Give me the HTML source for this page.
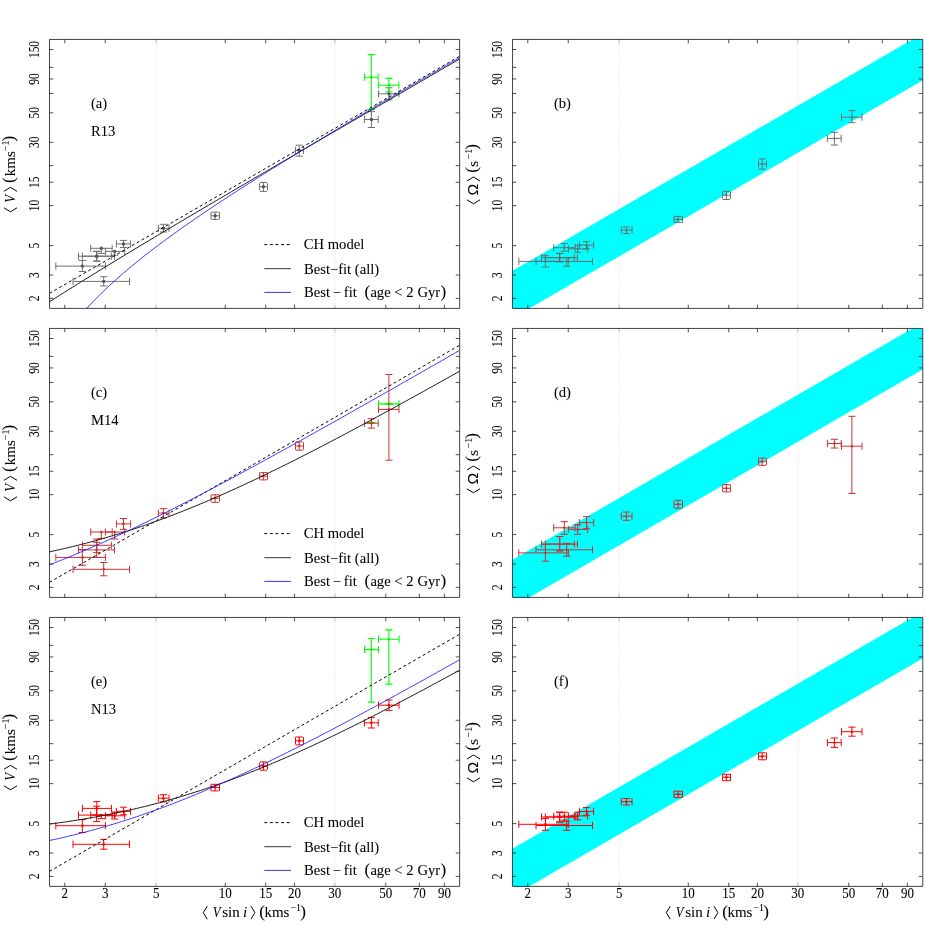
<!DOCTYPE html>
<html lang="en">
<head>
<meta charset="utf-8">
<title>Rotational velocity relations</title>
<style>
html,body{margin:0;padding:0;background:#fff;}
body{width:926px;height:926px;overflow:hidden;font-family:"Liberation Serif",serif;}
svg{display:block;will-change:transform;}
svg text{stroke:#000;stroke-width:0.06px;}
</style>
</head>
<body>
<svg width="926" height="926" viewBox="0 0 926 926" font-family="'Liberation Serif', serif" fill="#000">
<rect width="926" height="926" fill="#fff"/>
<defs>
<clipPath id="cpa"><rect x="49.5" y="39.5" width="410.0" height="269.0"/></clipPath>
<clipPath id="cpb"><rect x="512.5" y="39.5" width="410.0" height="269.0"/></clipPath>
<clipPath id="cpc"><rect x="49.5" y="328.5" width="410.0" height="269.0"/></clipPath>
<clipPath id="cpd"><rect x="512.5" y="328.5" width="410.0" height="269.0"/></clipPath>
<clipPath id="cpe"><rect x="49.5" y="617.5" width="410.0" height="269.0"/></clipPath>
<clipPath id="cpf"><rect x="512.5" y="617.5" width="410.0" height="269.0"/></clipPath>
</defs>
<g id="panel-a">
<g clip-path="url(#cpa)">
<line x1="156.17" y1="39.5" x2="156.17" y2="308.5" stroke="#e9e9e9" stroke-width="1" stroke-dasharray="2.1 1.45"/>
<line x1="334.85" y1="39.5" x2="334.85" y2="308.5" stroke="#e9e9e9" stroke-width="1" stroke-dasharray="2.1 1.45"/>
<path d="M55.80 266.10H105.40M55.80 262.50V269.70M105.40 262.50V269.70M82.40 260.50V271.50M78.80 260.50H86.00M78.80 271.50H86.00" stroke="#696969" stroke-width="0.95" fill="none"/><circle cx="82.40" cy="266.10" r="1.7" fill="#555555"/>
<path d="M78.50 256.20H114.50M78.50 252.60V259.80M114.50 252.60V259.80M96.60 251.40V261.10M93.00 251.40H100.20M93.00 261.10H100.20" stroke="#696969" stroke-width="0.95" fill="none"/><circle cx="96.60" cy="256.20" r="1.7" fill="#555555"/>
<path d="M82.40 256.20H111.40M82.40 252.60V259.80M111.40 252.60V259.80M96.80 251.40V261.10M93.20 251.40H100.40M93.20 261.10H100.40" stroke="#696969" stroke-width="0.95" fill="none"/><circle cx="96.80" cy="256.20" r="1.7" fill="#555555"/>
<path d="M90.70 248.30H112.20M90.70 244.70V251.90M112.20 244.70V251.90M101.30 248.30V253.40M97.70 253.40H104.90" stroke="#696969" stroke-width="0.95" fill="none"/><circle cx="101.30" cy="248.30" r="1.7" fill="#555555"/>
<path d="M105.40 251.40H124.70M105.40 247.80V255.00M124.70 247.80V255.00M114.70 251.40V255.20M111.10 255.20H118.30" stroke="#696969" stroke-width="0.95" fill="none"/><circle cx="114.70" cy="251.40" r="1.7" fill="#555555"/>
<path d="M116.40 243.90H130.60M116.40 240.30V247.50M130.60 240.30V247.50M123.50 240.40V247.50M119.90 240.40H127.10M119.90 247.50H127.10" stroke="#696969" stroke-width="0.95" fill="none"/><circle cx="123.50" cy="243.90" r="1.7" fill="#555555"/>
<path d="M73.00 281.40H129.50M73.00 277.80V285.00M129.50 277.80V285.00M103.70 276.70V286.00M100.10 276.70H107.30M100.10 286.00H107.30" stroke="#696969" stroke-width="0.95" fill="none"/><circle cx="103.70" cy="281.40" r="1.7" fill="#555555"/>
<path d="M158.30 228.30H169.00M158.30 224.70V231.90M169.00 224.70V231.90M163.40 224.30V232.00M159.80 224.30H167.00M159.80 232.00H167.00" stroke="#696969" stroke-width="0.95" fill="none"/><circle cx="163.40" cy="228.30" r="1.7" fill="#555555"/>
<path d="M211.00 215.80H219.50M211.00 212.20V219.40M219.50 212.20V219.40M215.10 212.20V219.40M211.50 212.20H218.70M211.50 219.40H218.70" stroke="#696969" stroke-width="0.95" fill="none"/><circle cx="215.10" cy="215.80" r="1.7" fill="#555555"/>
<path d="M259.60 186.80H267.50M259.60 183.20V190.40M267.50 183.20V190.40M263.40 182.40V191.40M259.80 182.40H267.00M259.80 191.40H267.00" stroke="#696969" stroke-width="0.95" fill="none"/><circle cx="263.40" cy="186.80" r="1.7" fill="#555555"/>
<path d="M295.50 150.40H303.50M295.50 146.80V154.00M303.50 146.80V154.00M299.20 145.20V156.20M295.60 145.20H302.80M295.60 156.20H302.80" stroke="#696969" stroke-width="0.95" fill="none"/><circle cx="299.20" cy="150.40" r="1.7" fill="#555555"/>
<path d="M364.40 119.50H378.20M364.40 115.90V123.10M378.20 115.90V123.10M371.40 111.60V127.50M367.80 111.60H375.00M367.80 127.50H375.00" stroke="#696969" stroke-width="0.95" fill="none"/><circle cx="371.40" cy="119.50" r="1.7" fill="#555555"/>
<path d="M378.50 93.80H399.00M378.50 90.20V97.40M399.00 90.20V97.40M388.90 87.80V99.90M385.30 87.80H392.50M385.30 99.90H392.50" stroke="#696969" stroke-width="0.95" fill="none"/><circle cx="388.90" cy="93.80" r="1.7" fill="#555555"/>
<path d="M364.40 77.20H378.10M364.40 73.60V80.80M378.10 73.60V80.80M371.30 54.60V109.40M367.70 54.60H374.90M367.70 109.40H374.90" stroke="#00FF00" stroke-width="1.1" fill="none"/><circle cx="371.30" cy="77.20" r="1.2" fill="#00FF00"/>
<path d="M378.50 85.20H398.90M378.50 81.60V88.80M398.90 81.60V88.80M388.90 78.40V91.70M385.30 78.40H392.50M385.30 91.70H392.50" stroke="#00FF00" stroke-width="1.1" fill="none"/><circle cx="388.90" cy="85.20" r="1.2" fill="#00FF00"/>
<path d="M49.50 293.32L152.00 234.07L254.50 174.81L357.00 115.55L459.50 56.29" stroke="#000" stroke-width="1.0" stroke-dasharray="2.9 2.7" fill="none"/>
<path d="M49.50 301.74L52.06 300.11L54.62 298.48L57.19 296.85L59.75 295.23L62.31 293.61L64.87 292.00L67.44 290.39L70.00 288.78L72.56 287.18L75.12 285.58L77.69 283.98L80.25 282.38L82.81 280.79L85.38 279.21L87.94 277.62L90.50 276.04L93.06 274.46L95.62 272.88L98.19 271.31L100.75 269.73L103.31 268.17L105.88 266.60L108.44 265.03L111.00 263.47L113.56 261.91L116.12 260.35L118.69 258.80L121.25 257.24L123.81 255.69L126.38 254.14L128.94 252.59L131.50 251.04L134.06 249.50L136.62 247.96L139.19 246.41L141.75 244.87L144.31 243.34L146.88 241.80L149.44 240.26L152.00 238.73L154.56 237.20L157.12 235.66L159.69 234.13L162.25 232.60L164.81 231.08L167.37 229.55L169.94 228.03L172.50 226.50L175.06 224.98L177.62 223.46L180.19 221.94L182.75 220.42L185.31 218.90L187.88 217.38L190.44 215.86L193.00 214.35L195.56 212.83L198.12 211.32L200.69 209.80L203.25 208.29L205.81 206.78L208.38 205.27L210.94 203.76L213.50 202.25L216.06 200.74L218.62 199.23L221.19 197.72L223.75 196.22L226.31 194.71L228.88 193.21L231.44 191.70L234.00 190.20L236.56 188.69L239.12 187.19L241.69 185.69L244.25 184.19L246.81 182.68L249.38 181.18L251.94 179.68L254.50 178.18L257.06 176.68L259.62 175.19L262.19 173.69L264.75 172.19L267.31 170.69L269.87 169.19L272.44 167.70L275.00 166.20L277.56 164.70L280.12 163.21L282.69 161.71L285.25 160.22L287.81 158.72L290.38 157.23L292.94 155.74L295.50 154.24L298.06 152.75L300.62 151.26L303.19 149.76L305.75 148.27L308.31 146.78L310.87 145.29L313.44 143.80L316.00 142.30L318.56 140.81L321.12 139.32L323.69 137.83L326.25 136.34L328.81 134.85L331.38 133.36L333.94 131.87L336.50 130.38L339.06 128.89L341.62 127.40L344.19 125.91L346.75 124.43L349.31 122.94L351.88 121.45L354.44 119.96L357.00 118.47L359.56 116.98L362.12 115.50L364.69 114.01L367.25 112.52L369.81 111.04L372.38 109.55L374.94 108.06L377.50 106.57L380.06 105.09L382.62 103.60L385.19 102.11L387.75 100.63L390.31 99.14L392.88 97.66L395.44 96.17L398.00 94.68L400.56 93.20L403.12 91.71L405.69 90.23L408.25 88.74L410.81 87.26L413.38 85.77L415.94 84.29L418.50 82.80L421.06 81.32L423.62 79.83L426.19 78.35L428.75 76.86L431.31 75.38L433.87 73.89L436.44 72.41L439.00 70.93L441.56 69.44L444.12 67.96L446.69 66.47L449.25 64.99L451.81 63.51L454.38 62.02L456.94 60.54L459.50 59.05" stroke="#000" stroke-width="0.9" fill="none"/>
<path d="M49.50 360.11L52.06 355.49L54.62 351.10L57.19 346.93L59.75 342.93L62.31 339.10L64.87 335.42L67.44 331.88L70.00 328.45L72.56 325.14L75.12 321.92L77.69 318.80L80.25 315.77L82.81 312.81L85.38 309.93L87.94 307.11L90.50 304.36L93.06 301.66L95.62 299.02L98.19 296.43L100.75 293.89L103.31 291.40L105.88 288.95L108.44 286.54L111.00 284.16L113.56 281.82L116.12 279.52L118.69 277.25L121.25 275.01L123.81 272.79L126.38 270.61L128.94 268.45L131.50 266.31L134.06 264.20L136.62 262.11L139.19 260.05L141.75 258.00L144.31 255.98L146.88 253.97L149.44 251.98L152.00 250.01L154.56 248.05L157.12 246.11L159.69 244.19L162.25 242.28L164.81 240.38L167.37 238.50L169.94 236.63L172.50 234.77L175.06 232.93L177.62 231.09L180.19 229.27L182.75 227.46L185.31 225.66L187.88 223.87L190.44 222.08L193.00 220.31L195.56 218.55L198.12 216.79L200.69 215.05L203.25 213.31L205.81 211.58L208.38 209.85L210.94 208.14L213.50 206.43L216.06 204.73L218.62 203.03L221.19 201.34L223.75 199.66L226.31 197.98L228.88 196.31L231.44 194.64L234.00 192.98L236.56 191.33L239.12 189.68L241.69 188.03L244.25 186.39L246.81 184.76L249.38 183.12L251.94 181.50L254.50 179.88L257.06 178.26L259.62 176.64L262.19 175.03L264.75 173.43L267.31 171.82L269.87 170.22L272.44 168.63L275.00 167.04L277.56 165.45L280.12 163.86L282.69 162.28L285.25 160.70L287.81 159.12L290.38 157.55L292.94 155.98L295.50 154.41L298.06 152.84L300.62 151.28L303.19 149.72L305.75 148.16L308.31 146.60L310.87 145.05L313.44 143.50L316.00 141.95L318.56 140.40L321.12 138.86L323.69 137.32L326.25 135.78L328.81 134.24L331.38 132.70L333.94 131.17L336.50 129.64L339.06 128.11L341.62 126.58L344.19 125.05L346.75 123.52L349.31 122.00L351.88 120.48L354.44 118.96L357.00 117.44L359.56 115.92L362.12 114.41L364.69 112.89L367.25 111.38L369.81 109.87L372.38 108.36L374.94 106.85L377.50 105.34L380.06 103.84L382.62 102.33L385.19 100.83L387.75 99.33L390.31 97.83L392.88 96.33L395.44 94.83L398.00 93.34L400.56 91.84L403.12 90.35L405.69 88.86L408.25 87.37L410.81 85.88L413.38 84.39L415.94 82.90L418.50 81.41L421.06 79.93L423.62 78.45L426.19 76.96L428.75 75.48L431.31 74.00L433.87 72.53L436.44 71.05L439.00 69.57L441.56 68.10L444.12 66.62L446.69 65.15L449.25 63.68L451.81 62.21L454.38 60.74L456.94 59.27L459.50 57.81" stroke="#1a1aff" stroke-width="0.85" fill="none"/>
</g>
<path d="M156.17 39.5v3.8M156.17 308.5v-3.8M334.85 39.5v3.8M334.85 308.5v-3.8" stroke="#b4b4b4" stroke-width="0.9" fill="none"/>
<path d="M64.80 39.5v3.8M64.80 308.5v-3.8M105.23 39.5v3.8M105.23 308.5v-3.8M225.29 39.5v3.8M225.29 308.5v-3.8M265.73 39.5v3.8M265.73 308.5v-3.8M294.41 39.5v3.8M294.41 308.5v-3.8M385.79 39.5v3.8M385.79 308.5v-3.8M419.34 39.5v3.8M419.34 308.5v-3.8M444.40 39.5v3.8M444.40 308.5v-3.8M49.5 298.40h3.8M459.5 298.40h-3.8M49.5 275.03h3.8M459.5 275.03h-3.8M49.5 245.58h3.8M459.5 245.58h-3.8M49.5 205.62h3.8M459.5 205.62h-3.8M49.5 182.24h3.8M459.5 182.24h-3.8M49.5 165.66h3.8M459.5 165.66h-3.8M49.5 142.28h3.8M459.5 142.28h-3.8M49.5 112.83h3.8M459.5 112.83h-3.8M49.5 93.44h3.8M459.5 93.44h-3.8M49.5 78.95h3.8M459.5 78.95h-3.8M49.5 67.38h3.8M459.5 67.38h-3.8M49.5 49.50h3.8M459.5 49.50h-3.8" stroke="#333" stroke-width="0.85" fill="none"/>
<path d="M49.55 39.45H459.65V308.4H49.55Z" fill="none" stroke="#000" stroke-width="0.74"/>
<text transform="translate(38.9 298.40) rotate(-90) scale(1 1.24)" font-size="11.5" text-anchor="middle">2</text>
<text transform="translate(38.9 275.03) rotate(-90) scale(1 1.24)" font-size="11.5" text-anchor="middle">3</text>
<text transform="translate(38.9 245.58) rotate(-90) scale(1 1.24)" font-size="11.5" text-anchor="middle">5</text>
<text transform="translate(38.9 205.62) rotate(-90) scale(1 1.24)" font-size="11.5" text-anchor="middle">10</text>
<text transform="translate(38.9 182.24) rotate(-90) scale(1 1.24)" font-size="11.5" text-anchor="middle">15</text>
<text transform="translate(38.9 142.28) rotate(-90) scale(1 1.24)" font-size="11.5" text-anchor="middle">30</text>
<text transform="translate(38.9 112.83) rotate(-90) scale(1 1.24)" font-size="11.5" text-anchor="middle">50</text>
<text transform="translate(38.9 78.95) rotate(-90) scale(1 1.24)" font-size="11.5" text-anchor="middle">90</text>
<text transform="translate(38.9 49.50) rotate(-90) scale(1 1.24)" font-size="11.5" text-anchor="middle">150</text>
<g transform="translate(14.5 174.0) rotate(-90)"><path d="M-33.80 -10.60L-37.80 -4.05L-33.80 2.50" stroke="#000" stroke-width="1.0" fill="none" stroke-linejoin="miter"/><text transform="translate(-28.84 0.00) scale(0.86 1)" font-size="15.0" font-style="italic">V</text><path d="M-17.30 -10.60L-13.30 -4.05L-17.30 2.50" stroke="#000" stroke-width="1.0" fill="none" stroke-linejoin="miter"/><text x="-8.89" y="-0.50" font-size="17.2">(</text><text x="-2.23" y="0.00" font-size="15.0">kms</text><text x="22.85" y="-6.00" font-size="10.0">−1</text><text x="32.48" y="-0.50" font-size="17.2">)</text></g>
<text x="90.92" y="108.10" font-size="14.6">(a)</text>
<text x="90.94" y="135.80" font-size="14.6">R13</text>
<path d="M264.3 244.6H291" stroke="#000" stroke-width="1.0" stroke-dasharray="2.9 2.7" fill="none"/>
<path d="M264.3 268.7H291" stroke="#000" stroke-width="0.8" fill="none"/>
<path d="M264.3 292.4H291" stroke="#0000FF" stroke-width="0.8" fill="none"/>
<text x="303.82" y="249.30" font-size="14.6">CH model</text>
<text x="304.03" y="273.70" font-size="14.6">Best−fit (all)</text>
<text x="304.03" y="297.00" font-size="14.6">Best</text>
<text x="332.64" y="297.00" font-size="14.6">−</text>
<text x="343.86" y="297.00" font-size="14.6">fit</text>
<text x="364.61" y="297.20" font-size="17.2">(</text>
<text x="370.39" y="297.00" font-size="14.6">age</text>
<text x="394.14" y="297.00" font-size="14.6">&lt;</text>
<text x="406.32" y="297.00" font-size="14.6">2</text>
<text x="417.52" y="297.00" font-size="14.6">Gyr</text>
<text x="440.38" y="297.20" font-size="17.2">)</text>
</g>
<g id="panel-b">
<g clip-path="url(#cpb)">
<line x1="619.17" y1="39.5" x2="619.17" y2="308.5" stroke="#e9e9e9" stroke-width="1" stroke-dasharray="2.1 1.45"/>
<line x1="797.85" y1="39.5" x2="797.85" y2="308.5" stroke="#e9e9e9" stroke-width="1" stroke-dasharray="2.1 1.45"/>
<polygon points="500.0,278.03 930.0,29.29 930.0,76.31 500.0,325.39" fill="#00FFFF"/>
<path d="M518.80 261.40H568.40M518.80 257.80V265.00M568.40 257.80V265.00M545.40 255.70V267.00M541.80 255.70H549.00M541.80 267.00H549.00" stroke="#696969" stroke-width="0.95" fill="none"/><circle cx="545.40" cy="261.40" r="1.0" fill="#696969"/>
<path d="M541.50 257.70H577.50M541.50 254.10V261.30M577.50 254.10V261.30M559.60 253.40V261.80M556.00 253.40H563.20M556.00 261.80H563.20" stroke="#696969" stroke-width="0.95" fill="none"/><circle cx="559.60" cy="257.70" r="1.0" fill="#696969"/>
<path d="M545.40 257.70H574.40M545.40 254.10V261.30M574.40 254.10V261.30M559.80 253.40V261.80M556.20 253.40H563.40M556.20 261.80H563.40" stroke="#696969" stroke-width="0.95" fill="none"/><circle cx="559.80" cy="257.70" r="1.0" fill="#696969"/>
<path d="M553.70 247.70H575.20M553.70 244.10V251.30M575.20 244.10V251.30M564.30 243.60V251.20M560.70 243.60H567.90M560.70 251.20H567.90" stroke="#696969" stroke-width="0.95" fill="none"/><circle cx="564.30" cy="247.70" r="1.0" fill="#696969"/>
<path d="M568.40 248.90H587.70M568.40 245.30V252.50M587.70 245.30V252.50M577.70 245.10V252.40M574.10 245.10H581.30M574.10 252.40H581.30" stroke="#696969" stroke-width="0.95" fill="none"/><circle cx="577.70" cy="248.90" r="1.0" fill="#696969"/>
<path d="M579.40 245.10H593.60M579.40 241.50V248.70M593.60 241.50V248.70M586.50 241.60V248.90M582.90 241.60H590.10M582.90 248.90H590.10" stroke="#696969" stroke-width="0.95" fill="none"/><circle cx="586.50" cy="245.10" r="1.0" fill="#696969"/>
<path d="M536.00 261.40H592.50M536.00 257.80V265.00M592.50 257.80V265.00M566.70 257.70V266.30M563.10 257.70H570.30M563.10 266.30H570.30" stroke="#696969" stroke-width="0.95" fill="none"/><circle cx="566.70" cy="261.40" r="1.0" fill="#696969"/>
<path d="M621.30 230.00H632.00M621.30 226.40V233.60M632.00 226.40V233.60M626.40 227.00V233.60M622.80 227.00H630.00M622.80 233.60H630.00" stroke="#696969" stroke-width="0.95" fill="none"/><circle cx="626.40" cy="230.00" r="1.0" fill="#696969"/>
<path d="M674.00 219.40H682.50M674.00 215.80V223.00M682.50 215.80V223.00M678.10 216.40V222.40M674.50 216.40H681.70M674.50 222.40H681.70" stroke="#696969" stroke-width="0.95" fill="none"/><circle cx="678.10" cy="219.40" r="1.0" fill="#696969"/>
<path d="M722.60 195.20H730.50M722.60 191.60V198.80M730.50 191.60V198.80M726.40 191.30V199.50M722.80 191.30H730.00M722.80 199.50H730.00" stroke="#696969" stroke-width="0.95" fill="none"/><circle cx="726.40" cy="195.20" r="1.0" fill="#696969"/>
<path d="M758.50 164.10H766.50M758.50 160.50V167.70M766.50 160.50V167.70M762.20 158.90V169.20M758.60 158.90H765.80M758.60 169.20H765.80" stroke="#696969" stroke-width="0.95" fill="none"/><circle cx="762.20" cy="164.10" r="1.0" fill="#696969"/>
<path d="M827.40 138.40H841.20M827.40 134.80V142.00M841.20 134.80V142.00M834.40 132.30V145.00M830.80 132.30H838.00M830.80 145.00H838.00" stroke="#696969" stroke-width="0.95" fill="none"/><circle cx="834.40" cy="138.40" r="1.0" fill="#696969"/>
<path d="M841.50 117.20H862.00M841.50 113.60V120.80M862.00 113.60V120.80M851.90 110.60V122.70M848.30 110.60H855.50M848.30 122.70H855.50" stroke="#696969" stroke-width="0.95" fill="none"/><circle cx="851.90" cy="117.20" r="1.0" fill="#696969"/>
</g>
<path d="M619.17 39.5v3.8M619.17 308.5v-3.8M797.85 39.5v3.8M797.85 308.5v-3.8" stroke="#b4b4b4" stroke-width="0.9" fill="none"/>
<path d="M527.80 39.5v3.8M527.80 308.5v-3.8M568.23 39.5v3.8M568.23 308.5v-3.8M688.29 39.5v3.8M688.29 308.5v-3.8M728.73 39.5v3.8M728.73 308.5v-3.8M757.41 39.5v3.8M757.41 308.5v-3.8M848.79 39.5v3.8M848.79 308.5v-3.8M882.34 39.5v3.8M882.34 308.5v-3.8M907.40 39.5v3.8M907.40 308.5v-3.8M512.5 298.40h3.8M922.5 298.40h-3.8M512.5 275.03h3.8M922.5 275.03h-3.8M512.5 245.58h3.8M922.5 245.58h-3.8M512.5 205.62h3.8M922.5 205.62h-3.8M512.5 182.24h3.8M922.5 182.24h-3.8M512.5 165.66h3.8M922.5 165.66h-3.8M512.5 142.28h3.8M922.5 142.28h-3.8M512.5 112.83h3.8M922.5 112.83h-3.8M512.5 93.44h3.8M922.5 93.44h-3.8M512.5 78.95h3.8M922.5 78.95h-3.8M512.5 67.38h3.8M922.5 67.38h-3.8M512.5 49.50h3.8M922.5 49.50h-3.8" stroke="#333" stroke-width="0.85" fill="none"/>
<path d="M512.55 39.45H922.75V308.4H512.55Z" fill="none" stroke="#000" stroke-width="0.74"/>
<text transform="translate(501.9 298.40) rotate(-90) scale(1 1.24)" font-size="11.5" text-anchor="middle">2</text>
<text transform="translate(501.9 275.03) rotate(-90) scale(1 1.24)" font-size="11.5" text-anchor="middle">3</text>
<text transform="translate(501.9 245.58) rotate(-90) scale(1 1.24)" font-size="11.5" text-anchor="middle">5</text>
<text transform="translate(501.9 205.62) rotate(-90) scale(1 1.24)" font-size="11.5" text-anchor="middle">10</text>
<text transform="translate(501.9 182.24) rotate(-90) scale(1 1.24)" font-size="11.5" text-anchor="middle">15</text>
<text transform="translate(501.9 142.28) rotate(-90) scale(1 1.24)" font-size="11.5" text-anchor="middle">30</text>
<text transform="translate(501.9 112.83) rotate(-90) scale(1 1.24)" font-size="11.5" text-anchor="middle">50</text>
<text transform="translate(501.9 78.95) rotate(-90) scale(1 1.24)" font-size="11.5" text-anchor="middle">90</text>
<text transform="translate(501.9 49.50) rotate(-90) scale(1 1.24)" font-size="11.5" text-anchor="middle">150</text>
<g transform="translate(477.5 174.0) rotate(-90)"><path d="M-25.80 -10.60L-29.80 -4.05L-25.80 2.50" stroke="#000" stroke-width="1.0" fill="none" stroke-linejoin="miter"/><text x="-21.47" y="0.00" font-size="15.5" font-family="'Liberation Sans', sans-serif">Ω</text><path d="M-7.00 -10.60L-3.00 -4.05L-7.00 2.50" stroke="#000" stroke-width="1.0" fill="none" stroke-linejoin="miter"/><text x="1.31" y="-0.50" font-size="17.2">(</text><text x="7.30" y="0.00" font-size="15.0">s</text><text x="14.55" y="-6.00" font-size="10.0">−1</text><text x="24.28" y="-0.50" font-size="17.2">)</text></g>
<text x="553.92" y="108.10" font-size="14.6">(b)</text>
</g>
<g id="panel-c">
<g clip-path="url(#cpc)">
<line x1="156.17" y1="328.5" x2="156.17" y2="597.5" stroke="#e9e9e9" stroke-width="1" stroke-dasharray="2.1 1.45"/>
<line x1="334.85" y1="328.5" x2="334.85" y2="597.5" stroke="#e9e9e9" stroke-width="1" stroke-dasharray="2.1 1.45"/>
<path d="M367.30 422.80H375.30" stroke="#00FF00" stroke-width="1.9" fill="none"/>
<path d="M378.60 403.90H399.00M378.60 400.30V407.50M399.00 400.30V407.50M388.90 403.30V404.50M385.30 403.30H392.50M385.30 404.50H392.50" stroke="#00FF00" stroke-width="1.1" fill="none"/><circle cx="388.90" cy="403.90" r="1.2" fill="#00FF00"/>
<path d="M55.80 557.40H105.40M55.80 553.80V561.00M105.40 553.80V561.00M82.40 549.50V565.30M78.80 549.50H86.00M78.80 565.30H86.00" stroke="#CD3333" stroke-width="1.0" fill="none"/><circle cx="82.40" cy="557.40" r="1.3" fill="#CD3333"/>
<path d="M78.50 549.90H114.50M78.50 546.30V553.50M114.50 546.30V553.50M96.60 542.40V557.40M93.00 542.40H100.20M93.00 557.40H100.20" stroke="#CD3333" stroke-width="1.0" fill="none"/><circle cx="96.60" cy="549.90" r="1.3" fill="#CD3333"/>
<path d="M82.40 545.30H111.40M82.40 541.70V548.90M111.40 541.70V548.90M96.80 539.00V552.60M93.20 539.00H100.40M93.20 552.60H100.40" stroke="#CD3333" stroke-width="1.0" fill="none"/><circle cx="96.80" cy="545.30" r="1.3" fill="#CD3333"/>
<path d="M90.70 532.00H112.20M90.70 528.40V535.60M112.20 528.40V535.60M101.30 532.00V538.50M97.70 538.50H104.90" stroke="#CD3333" stroke-width="1.0" fill="none"/><circle cx="101.30" cy="532.00" r="1.3" fill="#CD3333"/>
<path d="M105.40 532.00H124.70M105.40 528.40V535.60M124.70 528.40V535.60M114.70 532.00V539.00M111.10 539.00H118.30" stroke="#CD3333" stroke-width="1.0" fill="none"/><circle cx="114.70" cy="532.00" r="1.3" fill="#CD3333"/>
<path d="M116.40 523.90H130.60M116.40 520.30V527.50M130.60 520.30V527.50M123.50 518.50V529.40M119.90 518.50H127.10M119.90 529.40H127.10" stroke="#CD3333" stroke-width="1.0" fill="none"/><circle cx="123.50" cy="523.90" r="1.3" fill="#CD3333"/>
<path d="M73.00 569.30H129.50M73.00 565.70V572.90M129.50 565.70V572.90M103.70 562.50V575.80M100.10 562.50H107.30M100.10 575.80H107.30" stroke="#CD3333" stroke-width="1.0" fill="none"/><circle cx="103.70" cy="569.30" r="1.3" fill="#CD3333"/>
<path d="M158.30 513.10H169.00M158.30 509.50V516.70M169.00 509.50V516.70M163.40 508.60V517.90M159.80 508.60H167.00M159.80 517.90H167.00" stroke="#CD3333" stroke-width="1.0" fill="none"/><circle cx="163.40" cy="513.10" r="1.3" fill="#CD3333"/>
<path d="M211.00 498.20H219.50M211.00 494.60V501.80M219.50 494.60V501.80M215.10 494.80V502.40M211.50 494.80H218.70M211.50 502.40H218.70" stroke="#CD3333" stroke-width="1.0" fill="none"/><circle cx="215.10" cy="498.20" r="1.3" fill="#CD3333"/>
<path d="M259.60 476.10H267.50M259.60 472.50V479.70M267.50 472.50V479.70M263.40 472.60V479.90M259.80 472.60H267.00M259.80 479.90H267.00" stroke="#CD3333" stroke-width="1.0" fill="none"/><circle cx="263.40" cy="476.10" r="1.3" fill="#CD3333"/>
<path d="M295.50 446.00H303.50M295.50 442.40V449.60M303.50 442.40V449.60M299.20 441.90V450.20M295.60 441.90H302.80M295.60 450.20H302.80" stroke="#CD3333" stroke-width="1.0" fill="none"/><circle cx="299.20" cy="446.00" r="1.3" fill="#CD3333"/>
<path d="M364.40 423.20H378.20M364.40 419.60V426.80M378.20 419.60V426.80M371.40 418.70V428.10M367.80 418.70H375.00M367.80 428.10H375.00" stroke="#CD3333" stroke-width="1.0" fill="none"/><circle cx="371.40" cy="423.20" r="1.3" fill="#CD3333"/>
<path d="M378.50 409.40H399.00M378.50 405.80V413.00M399.00 405.80V413.00M388.90 374.50V460.20M385.30 374.50H392.50M385.30 460.20H392.50" stroke="#CD3333" stroke-width="1.0" fill="none"/><circle cx="388.90" cy="409.40" r="1.3" fill="#CD3333"/>
<path d="M49.50 582.32L152.00 523.07L254.50 463.81L357.00 404.55L459.50 345.29" stroke="#000" stroke-width="1.0" stroke-dasharray="2.9 2.7" fill="none"/>
<path d="M49.50 551.81L52.06 551.27L54.62 550.71L57.19 550.15L59.75 549.58L62.31 549.00L64.87 548.41L67.44 547.81L70.00 547.20L72.56 546.58L75.12 545.95L77.69 545.32L80.25 544.67L82.81 544.01L85.38 543.35L87.94 542.68L90.50 541.99L93.06 541.30L95.62 540.60L98.19 539.88L100.75 539.16L103.31 538.43L105.88 537.69L108.44 536.94L111.00 536.18L113.56 535.41L116.12 534.63L118.69 533.85L121.25 533.05L123.81 532.24L126.38 531.43L128.94 530.60L131.50 529.76L134.06 528.92L136.62 528.07L139.19 527.20L141.75 526.33L144.31 525.45L146.88 524.56L149.44 523.66L152.00 522.75L154.56 521.83L157.12 520.91L159.69 519.97L162.25 519.03L164.81 518.07L167.37 517.11L169.94 516.14L172.50 515.16L175.06 514.17L177.62 513.18L180.19 512.17L182.75 511.16L185.31 510.14L187.88 509.11L190.44 508.07L193.00 507.03L195.56 505.97L198.12 504.91L200.69 503.85L203.25 502.77L205.81 501.69L208.38 500.59L210.94 499.50L213.50 498.39L216.06 497.28L218.62 496.16L221.19 495.03L223.75 493.90L226.31 492.76L228.88 491.61L231.44 490.46L234.00 489.30L236.56 488.13L239.12 486.96L241.69 485.78L244.25 484.59L246.81 483.40L249.38 482.20L251.94 481.00L254.50 479.79L257.06 478.58L259.62 477.36L262.19 476.13L264.75 474.90L267.31 473.66L269.87 472.42L272.44 471.18L275.00 469.92L277.56 468.67L280.12 467.41L282.69 466.14L285.25 464.87L287.81 463.59L290.38 462.31L292.94 461.03L295.50 459.74L298.06 458.45L300.62 457.15L303.19 455.85L305.75 454.54L308.31 453.23L310.87 451.92L313.44 450.60L316.00 449.28L318.56 447.96L321.12 446.63L323.69 445.30L326.25 443.96L328.81 442.62L331.38 441.28L333.94 439.94L336.50 438.59L339.06 437.24L341.62 435.89L344.19 434.53L346.75 433.17L349.31 431.81L351.88 430.44L354.44 429.07L357.00 427.70L359.56 426.33L362.12 424.95L364.69 423.57L367.25 422.19L369.81 420.81L372.38 419.42L374.94 418.04L377.50 416.65L380.06 415.25L382.62 413.86L385.19 412.46L387.75 411.06L390.31 409.66L392.88 408.26L395.44 406.86L398.00 405.45L400.56 404.04L403.12 402.63L405.69 401.22L408.25 399.81L410.81 398.39L413.38 396.98L415.94 395.56L418.50 394.14L421.06 392.72L423.62 391.29L426.19 389.87L428.75 388.44L431.31 387.02L433.87 385.59L436.44 384.16L439.00 382.73L441.56 381.30L444.12 379.86L446.69 378.43L449.25 376.99L451.81 375.56L454.38 374.12L456.94 372.68L459.50 371.24" stroke="#000" stroke-width="0.9" fill="none"/>
<path d="M49.50 564.80L52.06 563.80L54.62 562.80L57.19 561.79L59.75 560.77L62.31 559.74L64.87 558.70L67.44 557.66L70.00 556.61L72.56 555.55L75.12 554.48L77.69 553.40L80.25 552.32L82.81 551.23L85.38 550.13L87.94 549.02L90.50 547.91L93.06 546.79L95.62 545.67L98.19 544.53L100.75 543.39L103.31 542.25L105.88 541.09L108.44 539.93L111.00 538.77L113.56 537.59L116.12 536.42L118.69 535.23L121.25 534.04L123.81 532.84L126.38 531.64L128.94 530.43L131.50 529.22L134.06 528.00L136.62 526.77L139.19 525.54L141.75 524.30L144.31 523.06L146.88 521.82L149.44 520.56L152.00 519.31L154.56 518.05L157.12 516.78L159.69 515.51L162.25 514.24L164.81 512.96L167.37 511.67L169.94 510.38L172.50 509.09L175.06 507.79L177.62 506.49L180.19 505.19L182.75 503.88L185.31 502.56L187.88 501.25L190.44 499.93L193.00 498.60L195.56 497.27L198.12 495.94L200.69 494.61L203.25 493.27L205.81 491.93L208.38 490.58L210.94 489.24L213.50 487.89L216.06 486.53L218.62 485.17L221.19 483.81L223.75 482.45L226.31 481.09L228.88 479.72L231.44 478.35L234.00 476.97L236.56 475.60L239.12 474.22L241.69 472.84L244.25 471.46L246.81 470.07L249.38 468.68L251.94 467.29L254.50 465.90L257.06 464.51L259.62 463.11L262.19 461.71L264.75 460.31L267.31 458.91L269.87 457.50L272.44 456.10L275.00 454.69L277.56 453.28L280.12 451.87L282.69 450.46L285.25 449.04L287.81 447.62L290.38 446.21L292.94 444.79L295.50 443.37L298.06 441.94L300.62 440.52L303.19 439.09L305.75 437.67L308.31 436.24L310.87 434.81L313.44 433.38L316.00 431.95L318.56 430.51L321.12 429.08L323.69 427.64L326.25 426.21L328.81 424.77L331.38 423.33L333.94 421.89L336.50 420.45L339.06 419.01L341.62 417.57L344.19 416.12L346.75 414.68L349.31 413.23L351.88 411.79L354.44 410.34L357.00 408.89L359.56 407.44L362.12 405.99L364.69 404.54L367.25 403.09L369.81 401.64L372.38 400.18L374.94 398.73L377.50 397.28L380.06 395.82L382.62 394.36L385.19 392.91L387.75 391.45L390.31 389.99L392.88 388.54L395.44 387.08L398.00 385.62L400.56 384.16L403.12 382.70L405.69 381.24L408.25 379.78L410.81 378.31L413.38 376.85L415.94 375.39L418.50 373.93L421.06 372.46L423.62 371.00L426.19 369.53L428.75 368.07L431.31 366.60L433.87 365.14L436.44 363.67L439.00 362.20L441.56 360.74L444.12 359.27L446.69 357.80L449.25 356.33L451.81 354.86L454.38 353.40L456.94 351.93L459.50 350.46" stroke="#1a1aff" stroke-width="0.85" fill="none"/>
</g>
<path d="M156.17 328.5v3.8M156.17 597.5v-3.8M334.85 328.5v3.8M334.85 597.5v-3.8" stroke="#b4b4b4" stroke-width="0.9" fill="none"/>
<path d="M64.80 328.5v3.8M64.80 597.5v-3.8M105.23 328.5v3.8M105.23 597.5v-3.8M225.29 328.5v3.8M225.29 597.5v-3.8M265.73 328.5v3.8M265.73 597.5v-3.8M294.41 328.5v3.8M294.41 597.5v-3.8M385.79 328.5v3.8M385.79 597.5v-3.8M419.34 328.5v3.8M419.34 597.5v-3.8M444.40 328.5v3.8M444.40 597.5v-3.8M49.5 587.40h3.8M459.5 587.40h-3.8M49.5 564.03h3.8M459.5 564.03h-3.8M49.5 534.58h3.8M459.5 534.58h-3.8M49.5 494.62h3.8M459.5 494.62h-3.8M49.5 471.24h3.8M459.5 471.24h-3.8M49.5 454.66h3.8M459.5 454.66h-3.8M49.5 431.28h3.8M459.5 431.28h-3.8M49.5 401.83h3.8M459.5 401.83h-3.8M49.5 382.44h3.8M459.5 382.44h-3.8M49.5 367.95h3.8M459.5 367.95h-3.8M49.5 356.38h3.8M459.5 356.38h-3.8M49.5 338.50h3.8M459.5 338.50h-3.8" stroke="#333" stroke-width="0.85" fill="none"/>
<path d="M49.55 328.45H459.65V597.4H49.55Z" fill="none" stroke="#000" stroke-width="0.74"/>
<text transform="translate(38.9 587.40) rotate(-90) scale(1 1.24)" font-size="11.5" text-anchor="middle">2</text>
<text transform="translate(38.9 564.03) rotate(-90) scale(1 1.24)" font-size="11.5" text-anchor="middle">3</text>
<text transform="translate(38.9 534.58) rotate(-90) scale(1 1.24)" font-size="11.5" text-anchor="middle">5</text>
<text transform="translate(38.9 494.62) rotate(-90) scale(1 1.24)" font-size="11.5" text-anchor="middle">10</text>
<text transform="translate(38.9 471.24) rotate(-90) scale(1 1.24)" font-size="11.5" text-anchor="middle">15</text>
<text transform="translate(38.9 431.28) rotate(-90) scale(1 1.24)" font-size="11.5" text-anchor="middle">30</text>
<text transform="translate(38.9 401.83) rotate(-90) scale(1 1.24)" font-size="11.5" text-anchor="middle">50</text>
<text transform="translate(38.9 367.95) rotate(-90) scale(1 1.24)" font-size="11.5" text-anchor="middle">90</text>
<text transform="translate(38.9 338.50) rotate(-90) scale(1 1.24)" font-size="11.5" text-anchor="middle">150</text>
<g transform="translate(14.5 463.0) rotate(-90)"><path d="M-33.80 -10.60L-37.80 -4.05L-33.80 2.50" stroke="#000" stroke-width="1.0" fill="none" stroke-linejoin="miter"/><text transform="translate(-28.84 0.00) scale(0.86 1)" font-size="15.0" font-style="italic">V</text><path d="M-17.30 -10.60L-13.30 -4.05L-17.30 2.50" stroke="#000" stroke-width="1.0" fill="none" stroke-linejoin="miter"/><text x="-8.89" y="-0.50" font-size="17.2">(</text><text x="-2.23" y="0.00" font-size="15.0">kms</text><text x="22.85" y="-6.00" font-size="10.0">−1</text><text x="32.48" y="-0.50" font-size="17.2">)</text></g>
<text x="90.92" y="397.10" font-size="14.6">(c)</text>
<text x="90.94" y="424.80" font-size="14.6">M14</text>
<path d="M264.3 533.6H291" stroke="#000" stroke-width="1.0" stroke-dasharray="2.9 2.7" fill="none"/>
<path d="M264.3 557.7H291" stroke="#000" stroke-width="0.8" fill="none"/>
<path d="M264.3 581.4H291" stroke="#0000FF" stroke-width="0.8" fill="none"/>
<text x="303.82" y="538.30" font-size="14.6">CH model</text>
<text x="304.03" y="562.70" font-size="14.6">Best−fit (all)</text>
<text x="304.03" y="586.00" font-size="14.6">Best</text>
<text x="332.64" y="586.00" font-size="14.6">−</text>
<text x="343.86" y="586.00" font-size="14.6">fit</text>
<text x="364.61" y="586.20" font-size="17.2">(</text>
<text x="370.39" y="586.00" font-size="14.6">age</text>
<text x="394.14" y="586.00" font-size="14.6">&lt;</text>
<text x="406.32" y="586.00" font-size="14.6">2</text>
<text x="417.52" y="586.00" font-size="14.6">Gyr</text>
<text x="440.38" y="586.20" font-size="17.2">)</text>
</g>
<g id="panel-d">
<g clip-path="url(#cpd)">
<line x1="619.17" y1="328.5" x2="619.17" y2="597.5" stroke="#e9e9e9" stroke-width="1" stroke-dasharray="2.1 1.45"/>
<line x1="797.85" y1="328.5" x2="797.85" y2="597.5" stroke="#e9e9e9" stroke-width="1" stroke-dasharray="2.1 1.45"/>
<polygon points="500.0,567.03 930.0,318.29 930.0,365.31 500.0,614.39" fill="#00FFFF"/>
<path d="M518.80 552.90H568.40M518.80 549.30V556.50M568.40 549.30V556.50M545.40 544.40V561.20M541.80 544.40H549.00M541.80 561.20H549.00" stroke="#CD3333" stroke-width="1.0" fill="none"/><circle cx="545.40" cy="552.90" r="1.2" fill="#CD3333"/>
<path d="M541.50 544.10H577.50M541.50 540.50V547.70M577.50 540.50V547.70M559.60 536.50V550.90M556.00 536.50H563.20M556.00 550.90H563.20" stroke="#CD3333" stroke-width="1.0" fill="none"/><circle cx="559.60" cy="544.10" r="1.2" fill="#CD3333"/>
<path d="M545.40 544.10H574.40M545.40 540.50V547.70M574.40 540.50V547.70M559.80 536.50V550.90M556.20 536.50H563.40M556.20 550.90H563.40" stroke="#CD3333" stroke-width="1.0" fill="none"/><circle cx="559.80" cy="544.10" r="1.2" fill="#CD3333"/>
<path d="M553.70 527.80H575.20M553.70 524.20V531.40M575.20 524.20V531.40M564.30 521.70V534.30M560.70 521.70H567.90M560.70 534.30H567.90" stroke="#CD3333" stroke-width="1.0" fill="none"/><circle cx="564.30" cy="527.80" r="1.2" fill="#CD3333"/>
<path d="M568.40 529.40H587.70M568.40 525.80V533.00M587.70 525.80V533.00M577.70 524.70V534.30M574.10 524.70H581.30M574.10 534.30H581.30" stroke="#CD3333" stroke-width="1.0" fill="none"/><circle cx="577.70" cy="529.40" r="1.2" fill="#CD3333"/>
<path d="M579.40 522.60H593.60M579.40 519.00V526.20M593.60 519.00V526.20M586.50 516.60V528.70M582.90 516.60H590.10M582.90 528.70H590.10" stroke="#CD3333" stroke-width="1.0" fill="none"/><circle cx="586.50" cy="522.60" r="1.2" fill="#CD3333"/>
<path d="M536.00 549.80H592.50M536.00 546.20V553.40M592.50 546.20V553.40M566.70 543.30V556.20M563.10 543.30H570.30M563.10 556.20H570.30" stroke="#CD3333" stroke-width="1.0" fill="none"/><circle cx="566.70" cy="549.80" r="1.2" fill="#CD3333"/>
<path d="M621.30 516.20H632.00M621.30 512.60V519.80M632.00 512.60V519.80M626.40 512.00V520.30M622.80 512.00H630.00M622.80 520.30H630.00" stroke="#CD3333" stroke-width="1.0" fill="none"/><circle cx="626.40" cy="516.20" r="1.2" fill="#CD3333"/>
<path d="M674.00 504.30H682.50M674.00 500.70V507.90M682.50 500.70V507.90M678.10 500.30V508.20M674.50 500.30H681.70M674.50 508.20H681.70" stroke="#CD3333" stroke-width="1.0" fill="none"/><circle cx="678.10" cy="504.30" r="1.2" fill="#CD3333"/>
<path d="M722.60 488.30H730.50M722.60 484.70V491.90M730.50 484.70V491.90M726.40 484.60V491.90M722.80 484.60H730.00M722.80 491.90H730.00" stroke="#CD3333" stroke-width="1.0" fill="none"/><circle cx="726.40" cy="488.30" r="1.2" fill="#CD3333"/>
<path d="M758.50 461.60H766.50M758.50 458.00V465.20M766.50 458.00V465.20M762.20 458.00V465.30M758.60 458.00H765.80M758.60 465.30H765.80" stroke="#CD3333" stroke-width="1.0" fill="none"/><circle cx="762.20" cy="461.60" r="1.2" fill="#CD3333"/>
<path d="M827.40 443.50H841.20M827.40 439.90V447.10M841.20 439.90V447.10M834.40 439.30V448.00M830.80 439.30H838.00M830.80 448.00H838.00" stroke="#CD3333" stroke-width="1.0" fill="none"/><circle cx="834.40" cy="443.50" r="1.2" fill="#CD3333"/>
<path d="M841.50 446.20H862.00M841.50 442.60V449.80M862.00 442.60V449.80M851.90 416.30V493.40M848.30 416.30H855.50M848.30 493.40H855.50" stroke="#CD3333" stroke-width="1.0" fill="none"/><circle cx="851.90" cy="446.20" r="1.2" fill="#CD3333"/>
</g>
<path d="M619.17 328.5v3.8M619.17 597.5v-3.8M797.85 328.5v3.8M797.85 597.5v-3.8" stroke="#b4b4b4" stroke-width="0.9" fill="none"/>
<path d="M527.80 328.5v3.8M527.80 597.5v-3.8M568.23 328.5v3.8M568.23 597.5v-3.8M688.29 328.5v3.8M688.29 597.5v-3.8M728.73 328.5v3.8M728.73 597.5v-3.8M757.41 328.5v3.8M757.41 597.5v-3.8M848.79 328.5v3.8M848.79 597.5v-3.8M882.34 328.5v3.8M882.34 597.5v-3.8M907.40 328.5v3.8M907.40 597.5v-3.8M512.5 587.40h3.8M922.5 587.40h-3.8M512.5 564.03h3.8M922.5 564.03h-3.8M512.5 534.58h3.8M922.5 534.58h-3.8M512.5 494.62h3.8M922.5 494.62h-3.8M512.5 471.24h3.8M922.5 471.24h-3.8M512.5 454.66h3.8M922.5 454.66h-3.8M512.5 431.28h3.8M922.5 431.28h-3.8M512.5 401.83h3.8M922.5 401.83h-3.8M512.5 382.44h3.8M922.5 382.44h-3.8M512.5 367.95h3.8M922.5 367.95h-3.8M512.5 356.38h3.8M922.5 356.38h-3.8M512.5 338.50h3.8M922.5 338.50h-3.8" stroke="#333" stroke-width="0.85" fill="none"/>
<path d="M512.55 328.45H922.75V597.4H512.55Z" fill="none" stroke="#000" stroke-width="0.74"/>
<text transform="translate(501.9 587.40) rotate(-90) scale(1 1.24)" font-size="11.5" text-anchor="middle">2</text>
<text transform="translate(501.9 564.03) rotate(-90) scale(1 1.24)" font-size="11.5" text-anchor="middle">3</text>
<text transform="translate(501.9 534.58) rotate(-90) scale(1 1.24)" font-size="11.5" text-anchor="middle">5</text>
<text transform="translate(501.9 494.62) rotate(-90) scale(1 1.24)" font-size="11.5" text-anchor="middle">10</text>
<text transform="translate(501.9 471.24) rotate(-90) scale(1 1.24)" font-size="11.5" text-anchor="middle">15</text>
<text transform="translate(501.9 431.28) rotate(-90) scale(1 1.24)" font-size="11.5" text-anchor="middle">30</text>
<text transform="translate(501.9 401.83) rotate(-90) scale(1 1.24)" font-size="11.5" text-anchor="middle">50</text>
<text transform="translate(501.9 367.95) rotate(-90) scale(1 1.24)" font-size="11.5" text-anchor="middle">90</text>
<text transform="translate(501.9 338.50) rotate(-90) scale(1 1.24)" font-size="11.5" text-anchor="middle">150</text>
<g transform="translate(477.5 463.0) rotate(-90)"><path d="M-25.80 -10.60L-29.80 -4.05L-25.80 2.50" stroke="#000" stroke-width="1.0" fill="none" stroke-linejoin="miter"/><text x="-21.47" y="0.00" font-size="15.5" font-family="'Liberation Sans', sans-serif">Ω</text><path d="M-7.00 -10.60L-3.00 -4.05L-7.00 2.50" stroke="#000" stroke-width="1.0" fill="none" stroke-linejoin="miter"/><text x="1.31" y="-0.50" font-size="17.2">(</text><text x="7.30" y="0.00" font-size="15.0">s</text><text x="14.55" y="-6.00" font-size="10.0">−1</text><text x="24.28" y="-0.50" font-size="17.2">)</text></g>
<text x="553.92" y="397.10" font-size="14.6">(d)</text>
</g>
<g id="panel-e">
<g clip-path="url(#cpe)">
<line x1="156.17" y1="617.5" x2="156.17" y2="886.5" stroke="#e9e9e9" stroke-width="1" stroke-dasharray="2.1 1.45"/>
<line x1="334.85" y1="617.5" x2="334.85" y2="886.5" stroke="#e9e9e9" stroke-width="1" stroke-dasharray="2.1 1.45"/>
<path d="M55.80 825.70H105.40M55.80 822.10V829.30M105.40 822.10V829.30M82.40 819.60V832.50M78.80 819.60H86.00M78.80 832.50H86.00" stroke="#FF0000" stroke-width="1.0" fill="none"/><circle cx="82.40" cy="825.70" r="1.3" fill="#FF0000"/>
<path d="M78.50 815.10H114.50M78.50 811.50V818.70M114.50 811.50V818.70M96.60 806.20V821.60M93.00 806.20H100.20M93.00 821.60H100.20" stroke="#FF0000" stroke-width="1.0" fill="none"/><circle cx="96.60" cy="815.10" r="1.3" fill="#FF0000"/>
<path d="M82.40 808.40H111.40M82.40 804.80V812.00M111.40 804.80V812.00M96.80 801.60V815.10M93.20 801.60H100.40M93.20 815.10H100.40" stroke="#FF0000" stroke-width="1.0" fill="none"/><circle cx="96.80" cy="808.40" r="1.3" fill="#FF0000"/>
<path d="M90.70 815.10H112.20M90.70 811.50V818.70M112.20 811.50V818.70M101.30 815.10V818.60M97.70 818.60H104.90" stroke="#FF0000" stroke-width="1.0" fill="none"/><circle cx="101.30" cy="815.10" r="1.3" fill="#FF0000"/>
<path d="M105.40 815.80H124.70M105.40 812.20V819.40M124.70 812.20V819.40M114.70 812.20V819.00M111.10 812.20H118.30M111.10 819.00H118.30" stroke="#FF0000" stroke-width="1.0" fill="none"/><circle cx="114.70" cy="815.80" r="1.3" fill="#FF0000"/>
<path d="M116.40 811.30H130.60M116.40 807.70V814.90M130.60 807.70V814.90M123.50 807.20V814.80M119.90 807.20H127.10M119.90 814.80H127.10" stroke="#FF0000" stroke-width="1.0" fill="none"/><circle cx="123.50" cy="811.30" r="1.3" fill="#FF0000"/>
<path d="M73.00 844.30H129.50M73.00 840.70V847.90M129.50 840.70V847.90M103.70 839.40V849.20M100.10 839.40H107.30M100.10 849.20H107.30" stroke="#FF0000" stroke-width="1.0" fill="none"/><circle cx="103.70" cy="844.30" r="1.3" fill="#FF0000"/>
<path d="M158.30 798.20H169.00M158.30 794.60V801.80M169.00 794.60V801.80M163.40 794.70V801.90M159.80 794.70H167.00M159.80 801.90H167.00" stroke="#FF0000" stroke-width="1.0" fill="none"/><circle cx="163.40" cy="798.20" r="1.3" fill="#FF0000"/>
<path d="M211.00 787.40H219.50M211.00 783.80V791.00M219.50 783.80V791.00M215.10 784.30V790.90M211.50 784.30H218.70M211.50 790.90H218.70" stroke="#FF0000" stroke-width="1.0" fill="none"/><circle cx="215.10" cy="787.40" r="1.3" fill="#FF0000"/>
<path d="M259.60 766.00H267.50M259.60 762.40V769.60M267.50 762.40V769.60M263.40 761.90V770.20M259.80 761.90H267.00M259.80 770.20H267.00" stroke="#FF0000" stroke-width="1.0" fill="none"/><circle cx="263.40" cy="766.00" r="1.3" fill="#FF0000"/>
<path d="M295.50 740.80H303.50M295.50 737.20V744.40M303.50 737.20V744.40M299.20 737.00V744.90M295.60 737.00H302.80M295.60 744.90H302.80" stroke="#FF0000" stroke-width="1.0" fill="none"/><circle cx="299.20" cy="740.80" r="1.3" fill="#FF0000"/>
<path d="M364.40 722.80H378.20M364.40 719.20V726.40M378.20 719.20V726.40M371.40 717.60V728.00M367.80 717.60H375.00M367.80 728.00H375.00" stroke="#FF0000" stroke-width="1.0" fill="none"/><circle cx="371.40" cy="722.80" r="1.3" fill="#FF0000"/>
<path d="M378.50 705.20H399.00M378.50 701.60V708.80M399.00 701.60V708.80M388.90 700.00V710.40M385.30 700.00H392.50M385.30 710.40H392.50" stroke="#FF0000" stroke-width="1.0" fill="none"/><circle cx="388.90" cy="705.20" r="1.3" fill="#FF0000"/>
<path d="M364.60 649.60H378.40M364.60 646.00V653.20M378.40 646.00V653.20M371.30 638.50V702.10M367.70 638.50H374.90M367.70 702.10H374.90" stroke="#00FF00" stroke-width="1.1" fill="none"/><circle cx="371.30" cy="649.60" r="1.2" fill="#00FF00"/>
<path d="M378.50 639.20H399.00M378.50 635.60V642.80M399.00 635.60V642.80M388.90 629.90V684.10M385.30 629.90H392.50M385.30 684.10H392.50" stroke="#00FF00" stroke-width="1.1" fill="none"/><circle cx="388.90" cy="639.20" r="1.2" fill="#00FF00"/>
<path d="M49.50 871.32L152.00 812.07L254.50 752.81L357.00 693.55L459.50 634.29" stroke="#000" stroke-width="1.0" stroke-dasharray="2.9 2.7" fill="none"/>
<path d="M49.50 824.11L52.06 823.77L54.62 823.43L57.19 823.08L59.75 822.73L62.31 822.36L64.87 821.99L67.44 821.62L70.00 821.23L72.56 820.84L75.12 820.44L77.69 820.04L80.25 819.62L82.81 819.20L85.38 818.77L87.94 818.34L90.50 817.89L93.06 817.44L95.62 816.98L98.19 816.51L100.75 816.03L103.31 815.55L105.88 815.05L108.44 814.55L111.00 814.04L113.56 813.52L116.12 812.99L118.69 812.45L121.25 811.90L123.81 811.35L126.38 810.78L128.94 810.21L131.50 809.63L134.06 809.04L136.62 808.44L139.19 807.83L141.75 807.21L144.31 806.58L146.88 805.94L149.44 805.30L152.00 804.64L154.56 803.97L157.12 803.30L159.69 802.61L162.25 801.92L164.81 801.22L167.37 800.50L169.94 799.78L172.50 799.05L175.06 798.31L177.62 797.56L180.19 796.80L182.75 796.03L185.31 795.25L187.88 794.46L190.44 793.66L193.00 792.85L195.56 792.03L198.12 791.21L200.69 790.37L203.25 789.52L205.81 788.67L208.38 787.81L210.94 786.93L213.50 786.05L216.06 785.16L218.62 784.26L221.19 783.35L223.75 782.43L226.31 781.50L228.88 780.56L231.44 779.62L234.00 778.66L236.56 777.70L239.12 776.73L241.69 775.75L244.25 774.76L246.81 773.76L249.38 772.76L251.94 771.74L254.50 770.72L257.06 769.69L259.62 768.65L262.19 767.61L264.75 766.56L267.31 765.49L269.87 764.42L272.44 763.35L275.00 762.26L277.56 761.17L280.12 760.07L282.69 758.97L285.25 757.85L287.81 756.73L290.38 755.60L292.94 754.47L295.50 753.33L298.06 752.18L300.62 751.03L303.19 749.87L305.75 748.70L308.31 747.52L310.87 746.34L313.44 745.16L316.00 743.97L318.56 742.77L321.12 741.57L323.69 740.36L326.25 739.14L328.81 737.92L331.38 736.69L333.94 735.46L336.50 734.22L339.06 732.98L341.62 731.74L344.19 730.48L346.75 729.23L349.31 727.96L351.88 726.70L354.44 725.43L357.00 724.15L359.56 722.87L362.12 721.58L364.69 720.29L367.25 719.00L369.81 717.70L372.38 716.40L374.94 715.10L377.50 713.79L380.06 712.47L382.62 711.15L385.19 709.83L387.75 708.51L390.31 707.18L392.88 705.85L395.44 704.51L398.00 703.17L400.56 701.83L403.12 700.49L405.69 699.14L408.25 697.79L410.81 696.43L413.38 695.08L415.94 693.72L418.50 692.35L421.06 690.99L423.62 689.62L426.19 688.25L428.75 686.87L431.31 685.50L433.87 684.12L436.44 682.74L439.00 681.35L441.56 679.97L444.12 678.58L446.69 677.19L449.25 675.80L451.81 674.40L454.38 673.00L456.94 671.61L459.50 670.21" stroke="#000" stroke-width="0.9" fill="none"/>
<path d="M49.50 840.50L52.06 839.95L54.62 839.40L57.19 838.83L59.75 838.26L62.31 837.68L64.87 837.09L67.44 836.49L70.00 835.88L72.56 835.26L75.12 834.63L77.69 833.99L80.25 833.34L82.81 832.69L85.38 832.02L87.94 831.35L90.50 830.66L93.06 829.97L95.62 829.26L98.19 828.55L100.75 827.83L103.31 827.10L105.88 826.35L108.44 825.60L111.00 824.84L113.56 824.07L116.12 823.29L118.69 822.50L121.25 821.70L123.81 820.90L126.38 820.08L128.94 819.25L131.50 818.42L134.06 817.57L136.62 816.71L139.19 815.85L141.75 814.98L144.31 814.09L146.88 813.20L149.44 812.30L152.00 811.39L154.56 810.47L157.12 809.54L159.69 808.61L162.25 807.66L164.81 806.71L167.37 805.74L169.94 804.77L172.50 803.79L175.06 802.80L177.62 801.81L180.19 800.80L182.75 799.79L185.31 798.77L187.88 797.74L190.44 796.70L193.00 795.65L195.56 794.60L198.12 793.54L200.69 792.47L203.25 791.39L205.81 790.31L208.38 789.21L210.94 788.11L213.50 787.01L216.06 785.89L218.62 784.77L221.19 783.65L223.75 782.51L226.31 781.37L228.88 780.22L231.44 779.07L234.00 777.91L236.56 776.74L239.12 775.57L241.69 774.39L244.25 773.20L246.81 772.01L249.38 770.81L251.94 769.61L254.50 768.40L257.06 767.18L259.62 765.96L262.19 764.73L264.75 763.50L267.31 762.27L269.87 761.02L272.44 759.78L275.00 758.52L277.56 757.27L280.12 756.00L282.69 754.74L285.25 753.47L287.81 752.19L290.38 750.91L292.94 749.62L295.50 748.33L298.06 747.04L300.62 745.74L303.19 744.44L305.75 743.13L308.31 741.82L310.87 740.51L313.44 739.19L316.00 737.87L318.56 736.55L321.12 735.22L323.69 733.89L326.25 732.55L328.81 731.21L331.38 729.87L333.94 728.53L336.50 727.18L339.06 725.83L341.62 724.47L344.19 723.11L346.75 721.75L349.31 720.39L351.88 719.03L354.44 717.66L357.00 716.29L359.56 714.91L362.12 713.54L364.69 712.16L367.25 710.78L369.81 709.39L372.38 708.01L374.94 706.62L377.50 705.23L380.06 703.83L382.62 702.44L385.19 701.04L387.75 699.64L390.31 698.24L392.88 696.84L395.44 695.44L398.00 694.03L400.56 692.62L403.12 691.21L405.69 689.80L408.25 688.39L410.81 686.97L413.38 685.55L415.94 684.14L418.50 682.72L421.06 681.29L423.62 679.87L426.19 678.45L428.75 677.02L431.31 675.60L433.87 674.17L436.44 672.74L439.00 671.31L441.56 669.87L444.12 668.44L446.69 667.01L449.25 665.57L451.81 664.13L454.38 662.70L456.94 661.26L459.50 659.82" stroke="#1a1aff" stroke-width="0.85" fill="none"/>
</g>
<path d="M156.17 617.5v3.8M156.17 886.5v-3.8M334.85 617.5v3.8M334.85 886.5v-3.8" stroke="#b4b4b4" stroke-width="0.9" fill="none"/>
<path d="M64.80 617.5v3.8M64.80 886.5v-3.8M105.23 617.5v3.8M105.23 886.5v-3.8M225.29 617.5v3.8M225.29 886.5v-3.8M265.73 617.5v3.8M265.73 886.5v-3.8M294.41 617.5v3.8M294.41 886.5v-3.8M385.79 617.5v3.8M385.79 886.5v-3.8M419.34 617.5v3.8M419.34 886.5v-3.8M444.40 617.5v3.8M444.40 886.5v-3.8M49.5 876.40h3.8M459.5 876.40h-3.8M49.5 853.03h3.8M459.5 853.03h-3.8M49.5 823.58h3.8M459.5 823.58h-3.8M49.5 783.62h3.8M459.5 783.62h-3.8M49.5 760.24h3.8M459.5 760.24h-3.8M49.5 743.66h3.8M459.5 743.66h-3.8M49.5 720.28h3.8M459.5 720.28h-3.8M49.5 690.83h3.8M459.5 690.83h-3.8M49.5 671.44h3.8M459.5 671.44h-3.8M49.5 656.95h3.8M459.5 656.95h-3.8M49.5 645.38h3.8M459.5 645.38h-3.8M49.5 627.50h3.8M459.5 627.50h-3.8" stroke="#333" stroke-width="0.85" fill="none"/>
<path d="M49.55 617.45H459.65V886.4H49.55Z" fill="none" stroke="#000" stroke-width="0.74"/>
<text transform="translate(38.9 876.40) rotate(-90) scale(1 1.24)" font-size="11.5" text-anchor="middle">2</text>
<text transform="translate(38.9 853.03) rotate(-90) scale(1 1.24)" font-size="11.5" text-anchor="middle">3</text>
<text transform="translate(38.9 823.58) rotate(-90) scale(1 1.24)" font-size="11.5" text-anchor="middle">5</text>
<text transform="translate(38.9 783.62) rotate(-90) scale(1 1.24)" font-size="11.5" text-anchor="middle">10</text>
<text transform="translate(38.9 760.24) rotate(-90) scale(1 1.24)" font-size="11.5" text-anchor="middle">15</text>
<text transform="translate(38.9 720.28) rotate(-90) scale(1 1.24)" font-size="11.5" text-anchor="middle">30</text>
<text transform="translate(38.9 690.83) rotate(-90) scale(1 1.24)" font-size="11.5" text-anchor="middle">50</text>
<text transform="translate(38.9 656.95) rotate(-90) scale(1 1.24)" font-size="11.5" text-anchor="middle">90</text>
<text transform="translate(38.9 627.50) rotate(-90) scale(1 1.24)" font-size="11.5" text-anchor="middle">150</text>
<g transform="translate(14.5 752.0) rotate(-90)"><path d="M-33.80 -10.60L-37.80 -4.05L-33.80 2.50" stroke="#000" stroke-width="1.0" fill="none" stroke-linejoin="miter"/><text transform="translate(-28.84 0.00) scale(0.86 1)" font-size="15.0" font-style="italic">V</text><path d="M-17.30 -10.60L-13.30 -4.05L-17.30 2.50" stroke="#000" stroke-width="1.0" fill="none" stroke-linejoin="miter"/><text x="-8.89" y="-0.50" font-size="17.2">(</text><text x="-2.23" y="0.00" font-size="15.0">kms</text><text x="22.85" y="-6.00" font-size="10.0">−1</text><text x="32.48" y="-0.50" font-size="17.2">)</text></g>
<text x="90.92" y="686.10" font-size="14.6">(e)</text>
<text x="90.94" y="713.80" font-size="14.6">N13</text>
<path d="M264.3 822.6H291" stroke="#000" stroke-width="1.0" stroke-dasharray="2.9 2.7" fill="none"/>
<path d="M264.3 846.7H291" stroke="#000" stroke-width="0.8" fill="none"/>
<path d="M264.3 870.4H291" stroke="#0000FF" stroke-width="0.8" fill="none"/>
<text x="303.82" y="827.30" font-size="14.6">CH model</text>
<text x="304.03" y="851.70" font-size="14.6">Best−fit (all)</text>
<text x="304.03" y="875.00" font-size="14.6">Best</text>
<text x="332.64" y="875.00" font-size="14.6">−</text>
<text x="343.86" y="875.00" font-size="14.6">fit</text>
<text x="364.61" y="875.20" font-size="17.2">(</text>
<text x="370.39" y="875.00" font-size="14.6">age</text>
<text x="394.14" y="875.00" font-size="14.6">&lt;</text>
<text x="406.32" y="875.00" font-size="14.6">2</text>
<text x="417.52" y="875.00" font-size="14.6">Gyr</text>
<text x="440.38" y="875.20" font-size="17.2">)</text>
<text transform="translate(64.80 897.5) scale(1 1.1)" font-size="13.0" text-anchor="middle">2</text>
<text transform="translate(105.23 897.5) scale(1 1.1)" font-size="13.0" text-anchor="middle">3</text>
<text transform="translate(156.17 897.5) scale(1 1.1)" font-size="13.0" text-anchor="middle">5</text>
<text transform="translate(225.29 897.5) scale(1 1.1)" font-size="13.0" text-anchor="middle">10</text>
<text transform="translate(265.73 897.5) scale(1 1.1)" font-size="13.0" text-anchor="middle">15</text>
<text transform="translate(294.41 897.5) scale(1 1.1)" font-size="13.0" text-anchor="middle">20</text>
<text transform="translate(334.85 897.5) scale(1 1.1)" font-size="13.0" text-anchor="middle">30</text>
<text transform="translate(385.79 897.5) scale(1 1.1)" font-size="13.0" text-anchor="middle">50</text>
<text transform="translate(419.34 897.5) scale(1 1.1)" font-size="13.0" text-anchor="middle">70</text>
<text transform="translate(444.40 897.5) scale(1 1.1)" font-size="13.0" text-anchor="middle">90</text>
<path d="M207.30 906.10L203.30 912.65L207.30 919.20" stroke="#000" stroke-width="1.0" fill="none" stroke-linejoin="miter"/>
<text transform="translate(212.75 916.70) scale(0.86 1)" font-size="15.0" font-style="italic">V</text>
<text x="222.20" y="916.70" font-size="15.0">sin</text>
<text x="243.08" y="916.70" font-size="15.0" font-style="italic">i</text>
<path d="M250.90 906.10L254.90 912.65L250.90 919.20" stroke="#000" stroke-width="1.0" fill="none" stroke-linejoin="miter"/>
<text x="259.31" y="916.90" font-size="17.2">(</text>
<text x="264.38" y="916.70" font-size="15.0">kms</text>
<text x="290.45" y="910.70" font-size="10.0">−1</text>
<text x="300.28" y="916.90" font-size="17.2">)</text>
</g>
<g id="panel-f">
<g clip-path="url(#cpf)">
<line x1="619.17" y1="617.5" x2="619.17" y2="886.5" stroke="#e9e9e9" stroke-width="1" stroke-dasharray="2.1 1.45"/>
<line x1="797.85" y1="617.5" x2="797.85" y2="886.5" stroke="#e9e9e9" stroke-width="1" stroke-dasharray="2.1 1.45"/>
<polygon points="500.0,856.03 930.0,607.29 930.0,654.31 500.0,903.39" fill="#00FFFF"/>
<path d="M518.80 824.30H568.40M518.80 820.70V827.90M568.40 820.70V827.90M545.40 818.40V830.30M541.80 818.40H549.00M541.80 830.30H549.00" stroke="#FF0000" stroke-width="1.0" fill="none"/><circle cx="545.40" cy="824.30" r="1.2" fill="#FF0000"/>
<path d="M541.50 817.00H577.50M541.50 813.40V820.60M577.50 813.40V820.60M559.60 812.20V822.00M556.00 812.20H563.20M556.00 822.00H563.20" stroke="#FF0000" stroke-width="1.0" fill="none"/><circle cx="559.60" cy="817.00" r="1.2" fill="#FF0000"/>
<path d="M545.40 817.00H574.40M545.40 813.40V820.60M574.40 813.40V820.60M559.80 812.20V822.00M556.20 812.20H563.40M556.20 822.00H563.40" stroke="#FF0000" stroke-width="1.0" fill="none"/><circle cx="559.80" cy="817.00" r="1.2" fill="#FF0000"/>
<path d="M553.70 816.20H575.20M553.70 812.60V819.80M575.20 812.60V819.80M564.30 812.20V820.20M560.70 812.20H567.90M560.70 820.20H567.90" stroke="#FF0000" stroke-width="1.0" fill="none"/><circle cx="564.30" cy="816.20" r="1.2" fill="#FF0000"/>
<path d="M568.40 815.90H587.70M568.40 812.30V819.50M587.70 812.30V819.50M577.70 812.20V819.70M574.10 812.20H581.30M574.10 819.70H581.30" stroke="#FF0000" stroke-width="1.0" fill="none"/><circle cx="577.70" cy="815.90" r="1.2" fill="#FF0000"/>
<path d="M579.40 811.40H593.60M579.40 807.80V815.00M593.60 807.80V815.00M586.50 807.60V815.20M582.90 807.60H590.10M582.90 815.20H590.10" stroke="#FF0000" stroke-width="1.0" fill="none"/><circle cx="586.50" cy="811.40" r="1.2" fill="#FF0000"/>
<path d="M536.00 825.50H592.50M536.00 821.90V829.10M592.50 821.90V829.10M566.70 821.20V830.30M563.10 821.20H570.30M563.10 830.30H570.30" stroke="#FF0000" stroke-width="1.0" fill="none"/><circle cx="566.70" cy="825.50" r="1.2" fill="#FF0000"/>
<path d="M621.30 801.70H632.00M621.30 798.10V805.30M632.00 798.10V805.30M626.40 798.50V805.00M622.80 798.50H630.00M622.80 805.00H630.00" stroke="#FF0000" stroke-width="1.0" fill="none"/><circle cx="626.40" cy="801.70" r="1.2" fill="#FF0000"/>
<path d="M674.00 794.30H682.50M674.00 790.70V797.90M682.50 790.70V797.90M678.10 791.20V797.60M674.50 791.20H681.70M674.50 797.60H681.70" stroke="#FF0000" stroke-width="1.0" fill="none"/><circle cx="678.10" cy="794.30" r="1.2" fill="#FF0000"/>
<path d="M722.60 777.30H730.50M722.60 773.70V780.90M730.50 773.70V780.90M726.40 774.30V780.70M722.80 774.30H730.00M722.80 780.70H730.00" stroke="#FF0000" stroke-width="1.0" fill="none"/><circle cx="726.40" cy="777.30" r="1.2" fill="#FF0000"/>
<path d="M758.50 756.20H766.50M758.50 752.60V759.80M766.50 752.60V759.80M762.20 752.80V759.80M758.60 752.80H765.80M758.60 759.80H765.80" stroke="#FF0000" stroke-width="1.0" fill="none"/><circle cx="762.20" cy="756.20" r="1.2" fill="#FF0000"/>
<path d="M827.40 742.60H841.20M827.40 739.00V746.20M841.20 739.00V746.20M834.40 738.00V747.40M830.80 738.00H838.00M830.80 747.40H838.00" stroke="#FF0000" stroke-width="1.0" fill="none"/><circle cx="834.40" cy="742.60" r="1.2" fill="#FF0000"/>
<path d="M841.50 731.70H862.00M841.50 728.10V735.30M862.00 728.10V735.30M851.90 727.10V736.20M848.30 727.10H855.50M848.30 736.20H855.50" stroke="#FF0000" stroke-width="1.0" fill="none"/><circle cx="851.90" cy="731.70" r="1.2" fill="#FF0000"/>
</g>
<path d="M619.17 617.5v3.8M619.17 886.5v-3.8M797.85 617.5v3.8M797.85 886.5v-3.8" stroke="#b4b4b4" stroke-width="0.9" fill="none"/>
<path d="M527.80 617.5v3.8M527.80 886.5v-3.8M568.23 617.5v3.8M568.23 886.5v-3.8M688.29 617.5v3.8M688.29 886.5v-3.8M728.73 617.5v3.8M728.73 886.5v-3.8M757.41 617.5v3.8M757.41 886.5v-3.8M848.79 617.5v3.8M848.79 886.5v-3.8M882.34 617.5v3.8M882.34 886.5v-3.8M907.40 617.5v3.8M907.40 886.5v-3.8M512.5 876.40h3.8M922.5 876.40h-3.8M512.5 853.03h3.8M922.5 853.03h-3.8M512.5 823.58h3.8M922.5 823.58h-3.8M512.5 783.62h3.8M922.5 783.62h-3.8M512.5 760.24h3.8M922.5 760.24h-3.8M512.5 743.66h3.8M922.5 743.66h-3.8M512.5 720.28h3.8M922.5 720.28h-3.8M512.5 690.83h3.8M922.5 690.83h-3.8M512.5 671.44h3.8M922.5 671.44h-3.8M512.5 656.95h3.8M922.5 656.95h-3.8M512.5 645.38h3.8M922.5 645.38h-3.8M512.5 627.50h3.8M922.5 627.50h-3.8" stroke="#333" stroke-width="0.85" fill="none"/>
<path d="M512.55 617.45H922.75V886.4H512.55Z" fill="none" stroke="#000" stroke-width="0.74"/>
<text transform="translate(501.9 876.40) rotate(-90) scale(1 1.24)" font-size="11.5" text-anchor="middle">2</text>
<text transform="translate(501.9 853.03) rotate(-90) scale(1 1.24)" font-size="11.5" text-anchor="middle">3</text>
<text transform="translate(501.9 823.58) rotate(-90) scale(1 1.24)" font-size="11.5" text-anchor="middle">5</text>
<text transform="translate(501.9 783.62) rotate(-90) scale(1 1.24)" font-size="11.5" text-anchor="middle">10</text>
<text transform="translate(501.9 760.24) rotate(-90) scale(1 1.24)" font-size="11.5" text-anchor="middle">15</text>
<text transform="translate(501.9 720.28) rotate(-90) scale(1 1.24)" font-size="11.5" text-anchor="middle">30</text>
<text transform="translate(501.9 690.83) rotate(-90) scale(1 1.24)" font-size="11.5" text-anchor="middle">50</text>
<text transform="translate(501.9 656.95) rotate(-90) scale(1 1.24)" font-size="11.5" text-anchor="middle">90</text>
<text transform="translate(501.9 627.50) rotate(-90) scale(1 1.24)" font-size="11.5" text-anchor="middle">150</text>
<g transform="translate(477.5 752.0) rotate(-90)"><path d="M-25.80 -10.60L-29.80 -4.05L-25.80 2.50" stroke="#000" stroke-width="1.0" fill="none" stroke-linejoin="miter"/><text x="-21.47" y="0.00" font-size="15.5" font-family="'Liberation Sans', sans-serif">Ω</text><path d="M-7.00 -10.60L-3.00 -4.05L-7.00 2.50" stroke="#000" stroke-width="1.0" fill="none" stroke-linejoin="miter"/><text x="1.31" y="-0.50" font-size="17.2">(</text><text x="7.30" y="0.00" font-size="15.0">s</text><text x="14.55" y="-6.00" font-size="10.0">−1</text><text x="24.28" y="-0.50" font-size="17.2">)</text></g>
<text x="553.92" y="686.10" font-size="14.6">(f)</text>
<text transform="translate(527.80 897.5) scale(1 1.1)" font-size="13.0" text-anchor="middle">2</text>
<text transform="translate(568.23 897.5) scale(1 1.1)" font-size="13.0" text-anchor="middle">3</text>
<text transform="translate(619.17 897.5) scale(1 1.1)" font-size="13.0" text-anchor="middle">5</text>
<text transform="translate(688.29 897.5) scale(1 1.1)" font-size="13.0" text-anchor="middle">10</text>
<text transform="translate(728.73 897.5) scale(1 1.1)" font-size="13.0" text-anchor="middle">15</text>
<text transform="translate(757.41 897.5) scale(1 1.1)" font-size="13.0" text-anchor="middle">20</text>
<text transform="translate(797.85 897.5) scale(1 1.1)" font-size="13.0" text-anchor="middle">30</text>
<text transform="translate(848.79 897.5) scale(1 1.1)" font-size="13.0" text-anchor="middle">50</text>
<text transform="translate(882.34 897.5) scale(1 1.1)" font-size="13.0" text-anchor="middle">70</text>
<text transform="translate(907.40 897.5) scale(1 1.1)" font-size="13.0" text-anchor="middle">90</text>
<path d="M670.30 906.10L666.30 912.65L670.30 919.20" stroke="#000" stroke-width="1.0" fill="none" stroke-linejoin="miter"/>
<text transform="translate(675.75 916.70) scale(0.86 1)" font-size="15.0" font-style="italic">V</text>
<text x="685.20" y="916.70" font-size="15.0">sin</text>
<text x="706.07" y="916.70" font-size="15.0" font-style="italic">i</text>
<path d="M713.90 906.10L717.90 912.65L713.90 919.20" stroke="#000" stroke-width="1.0" fill="none" stroke-linejoin="miter"/>
<text x="722.31" y="916.90" font-size="17.2">(</text>
<text x="727.38" y="916.70" font-size="15.0">kms</text>
<text x="753.45" y="910.70" font-size="10.0">−1</text>
<text x="763.28" y="916.90" font-size="17.2">)</text>
</g>
</svg>
</body>
</html>
